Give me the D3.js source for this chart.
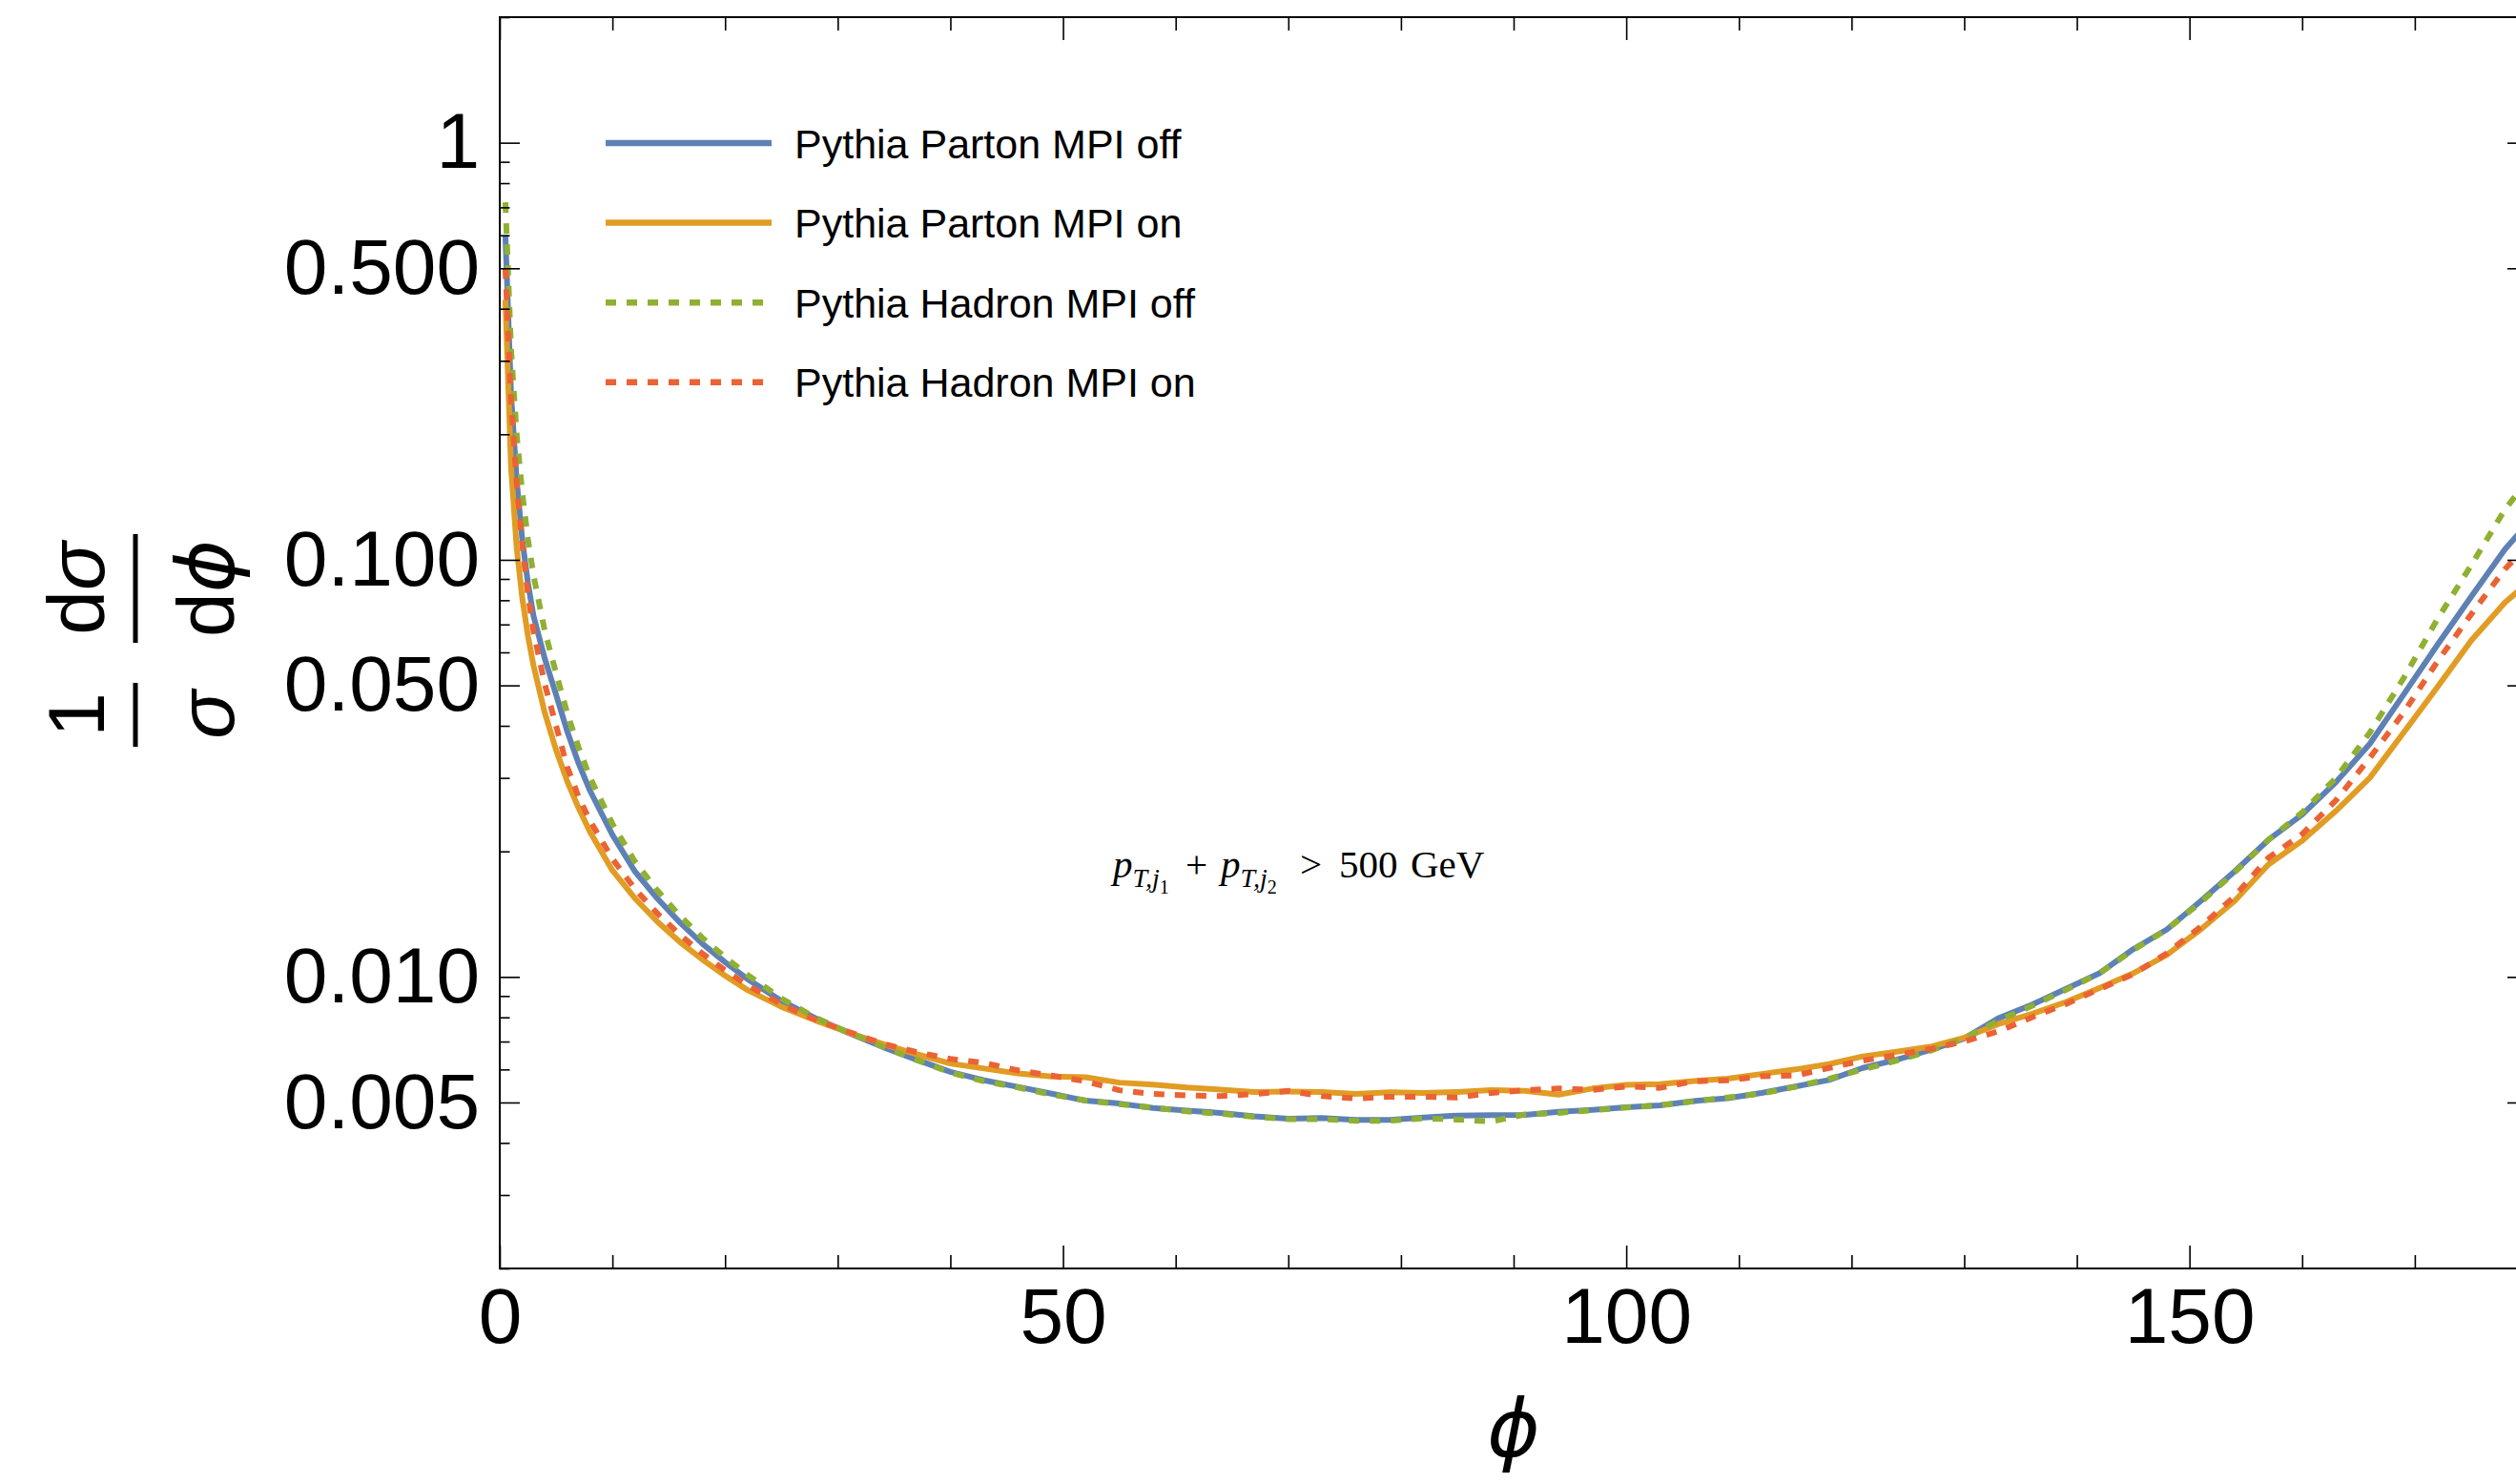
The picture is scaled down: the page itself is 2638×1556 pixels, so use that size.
<!DOCTYPE html>
<html>
<head>
<meta charset="utf-8">
<script src="https://cdn.jsdelivr.net/npm/d3@7"></script>
<style>
  html, body { margin: 0; padding: 0; background: #fff; }
  svg { display: block; }
</style>
</head>
<body>
<svg id="chart" width="2638" height="1556"></svg>
<script>
// Azimuthal angle bins (degrees)
const phi = [0.5, 1, 1.5, 2, 2.5, 3, 4, 5, 6, 7, 8, 10, 12, 14, 16, 18, 20, 22,
  25, 28, 31, 34, 37, 40, 43, 46, 49, 52, 55, 58, 61, 64, 67, 70, 73, 76, 79, 82,
  85, 88, 91, 94, 97, 100, 103, 106, 109, 112, 115, 118, 121, 124, 127, 130, 133,
  136, 139, 142, 145, 148, 151, 154, 157, 160, 163, 166, 169, 172, 175, 178, 180];

// Normalised distributions 1/sigma dsigma/dphi
const partonMpiOff = [0.60, 0.25, 0.155, 0.1115, 0.088, 0.0733, 0.0579, 0.0475, 0.0387, 0.0325, 0.0280,
  0.0219, 0.0179, 0.0154, 0.0135, 0.0120, 0.01085, 0.00988,
  0.00876, 0.00797, 0.00733, 0.00679, 0.00633, 0.00592, 0.00565, 0.00545, 0.00525, 0.00505, 0.00497,
  0.00485, 0.00478, 0.00472, 0.00463, 0.00457, 0.00459, 0.00454, 0.00454, 0.00460, 0.00465, 0.00466,
  0.00467, 0.00475, 0.00480, 0.00487, 0.00492, 0.00504, 0.00512, 0.00527, 0.00546, 0.00566, 0.00605,
  0.00633, 0.00668, 0.00712, 0.00795, 0.00858, 0.00935, 0.01020, 0.01165, 0.01300, 0.01520, 0.01790,
  0.02130, 0.02450, 0.02930, 0.03620, 0.04750, 0.06250, 0.08150, 0.10600, 0.12200];

const partonMpiOn = [0.42, 0.167, 0.107, 0.0809, 0.0657, 0.0557, 0.0429, 0.0350, 0.0294, 0.0254, 0.0223,
  0.0180, 0.01543, 0.01356, 0.01212, 0.01100, 0.01007, 0.00930,
  0.00848, 0.00787, 0.00735, 0.00691, 0.00653, 0.00620, 0.00603, 0.00587, 0.00577, 0.00575, 0.00558,
  0.00552, 0.00543, 0.00537, 0.00530, 0.00531, 0.00530, 0.00524, 0.00529, 0.00527, 0.00530, 0.00535,
  0.00533, 0.00522, 0.00540, 0.00551, 0.00553, 0.00563, 0.00570, 0.00585, 0.00600, 0.00618, 0.00645,
  0.00662, 0.00680, 0.00715, 0.00770, 0.00815, 0.00870, 0.00940, 0.01020, 0.01130, 0.01300, 0.01520,
  0.01860, 0.02120, 0.02500, 0.03000, 0.03850, 0.04950, 0.06400, 0.07900, 0.08800];

const hadronMpiOff = [0.72, 0.321, 0.200, 0.1445, 0.112, 0.0917, 0.0674, 0.0535, 0.0428, 0.0355, 0.0301,
  0.0233, 0.0189, 0.0161, 0.0140, 0.0124, 0.01115, 0.01011,
  0.00888, 0.00800, 0.00735, 0.00680, 0.00632, 0.00590, 0.00562, 0.00543, 0.00522, 0.00506, 0.00495,
  0.00486, 0.00476, 0.00470, 0.00462, 0.00456, 0.00456, 0.00452, 0.00452, 0.00458, 0.00455, 0.00450,
  0.00468, 0.00472, 0.00479, 0.00486, 0.00493, 0.00503, 0.00514, 0.00525, 0.00545, 0.00570, 0.00600,
  0.00630, 0.00665, 0.00712, 0.00785, 0.00852, 0.00930, 0.01020, 0.01160, 0.01300, 0.01510, 0.01780,
  0.02130, 0.02480, 0.03000, 0.03850, 0.05200, 0.07200, 0.09700, 0.13200, 0.15500];

const hadronMpiOn = [0.50, 0.242, 0.153, 0.1085, 0.0827, 0.0672, 0.0503, 0.0400, 0.0318, 0.0270, 0.0237,
  0.0192, 0.01625, 0.01419, 0.01262, 0.01137, 0.01037, 0.00955,
  0.00860, 0.00790, 0.00738, 0.00692, 0.00660, 0.00636, 0.00622, 0.00597, 0.00580, 0.00562, 0.00535,
  0.00524, 0.00520, 0.00518, 0.00524, 0.00533, 0.00518, 0.00511, 0.00516, 0.00516, 0.00514, 0.00527,
  0.00535, 0.00540, 0.00536, 0.00546, 0.00542, 0.00562, 0.00565, 0.00578, 0.00580, 0.00605, 0.00630,
  0.00650, 0.00672, 0.00700, 0.00740, 0.00800, 0.00860, 0.00935, 0.01015, 0.01140, 0.01320, 0.01560,
  0.01930, 0.02200, 0.02650, 0.03350, 0.04300, 0.05700, 0.07400, 0.09500, 0.10800];

const seriesNames = ["Pythia Parton MPI off", "Pythia Parton MPI on",
                     "Pythia Hadron MPI off", "Pythia Hadron MPI on"];

// Axis ticks
const xMajorTicks = [0, 50, 100, 150];
const xMinorTicks = [10, 20, 30, 40, 60, 70, 80, 90, 110, 120, 130, 140, 160, 170];
const yMajorTicks = [0.005, 0.01, 0.05, 0.1, 0.5, 1];
const yMajorLabels = ["0.005", "0.010", "0.050", "0.100", "0.500", "1"];
const yMinorTicks = [0.002, 0.003, 0.004, 0.006, 0.007, 0.008, 0.009,
                     0.02, 0.03, 0.04, 0.06, 0.07, 0.08, 0.09,
                     0.2, 0.3, 0.4, 0.6, 0.7, 0.8, 0.9, 2];

const series = [
  { name: seriesNames[0], values: partonMpiOff, color: "#5E81B5", dash: null },
  { name: seriesNames[1], values: partonMpiOn,  color: "#E19C24", dash: null },
  { name: seriesNames[2], values: hadronMpiOff, color: "#8FB032", dash: "11,11" },
  { name: seriesNames[3], values: hadronMpiOn,  color: "#EB6235", dash: "11,11" }
];

const plot = { left: 524, right: 2650, top: 18, bottom: 1330 };
const sans = "'Liberation Sans', Arial, Helvetica, sans-serif";
const serif = "'Liberation Serif', 'Times New Roman', serif";
const PHI = "\u03D5";   // straight-stroke phi

const svg = d3.select("#chart");

const x = d3.scaleLinear().domain([0, 180]).range([plot.left, plot.right]);
const y = d3.scaleLog().domain([0.002, 2]).range([plot.bottom, plot.top]);

// Curves, clipped to the frame
svg.append("clipPath").attr("id", "plot-clip")
  .append("rect")
  .attr("x", plot.left).attr("y", plot.top)
  .attr("width", plot.right - plot.left).attr("height", plot.bottom - plot.top);

const line = d3.line()
  .x((d, i) => x(phi[i]))
  .y(d => y(d));

const curves = svg.append("g").attr("clip-path", "url(#plot-clip)");
series.forEach(s => {
  curves.append("path")
    .datum(s.values)
    .attr("d", line)
    .attr("fill", "none")
    .attr("stroke", s.color)
    .attr("stroke-width", 6)
    .attr("stroke-linejoin", "round")
    .attr("stroke-dasharray", s.dash);
});

// Frame
svg.append("rect")
  .attr("x", plot.left).attr("y", plot.top)
  .attr("width", plot.right - plot.left).attr("height", plot.bottom - plot.top)
  .attr("fill", "none").attr("stroke", "#000").attr("stroke-width", 2);

function styleAxis(g) {
  g.attr("font-family", sans).attr("font-size", 82);
  g.select(".domain").remove();
  g.selectAll(".tick line").attr("stroke", "#000").attr("stroke-width", 1.6);
  g.selectAll("text").attr("fill", "#000");
}

// Bottom ticks with labels
svg.append("g")
  .attr("transform", `translate(0,${plot.bottom})`)
  .call(d3.axisBottom(x).tickValues(xMajorTicks).tickSize(-24).tickPadding(20).tickFormat(d3.format("d")))
  .call(styleAxis);
svg.append("g")
  .attr("transform", `translate(0,${plot.bottom})`)
  .call(d3.axisBottom(x).tickValues(xMinorTicks).tickSize(-14).tickFormat(""))
  .call(styleAxis);
// Top ticks
svg.append("g")
  .attr("transform", `translate(0,${plot.top})`)
  .call(d3.axisTop(x).tickValues(xMajorTicks).tickSize(-24).tickFormat(""))
  .call(styleAxis);
svg.append("g")
  .attr("transform", `translate(0,${plot.top})`)
  .call(d3.axisTop(x).tickValues(xMinorTicks).tickSize(-14).tickFormat(""))
  .call(styleAxis);

// Left ticks with labels
svg.append("g")
  .attr("transform", `translate(${plot.left},0)`)
  .call(d3.axisLeft(y).tickValues(yMajorTicks).tickSize(-21).tickPadding(21)
        .tickFormat((d, i) => yMajorLabels[i]))
  .call(styleAxis);
svg.append("g")
  .attr("transform", `translate(${plot.left},0)`)
  .call(d3.axisLeft(y).tickValues(yMinorTicks).tickSize(-10.5).tickFormat(""))
  .call(styleAxis);
// Right ticks
svg.append("g")
  .attr("transform", `translate(${plot.right},0)`)
  .call(d3.axisRight(y).tickValues(yMajorTicks).tickSize(-21).tickFormat(""))
  .call(styleAxis);
svg.append("g")
  .attr("transform", `translate(${plot.right},0)`)
  .call(d3.axisRight(y).tickValues(yMinorTicks).tickSize(-10.5).tickFormat(""))
  .call(styleAxis);

// X axis title
svg.append("text")
  .attr("x", (plot.left + plot.right) / 2).attr("y", 1527)
  .attr("text-anchor", "middle")
  .attr("font-family", "'DejaVu Sans', sans-serif").attr("font-size", 84).attr("font-style", "italic")
  .text(PHI);

// Y axis title: 1/σ dσ/dϕ, written as two stacked fractions
const yTitle = svg.append("g")
  .attr("transform", "translate(142,671.5) rotate(-90)")
  .attr("font-family", sans).attr("font-size", 84);

function fraction(cx, halfWidth, numParts, denParts) {
  yTitle.append("rect")
    .attr("x", cx - halfWidth).attr("y", -2.5)
    .attr("width", 2 * halfWidth).attr("height", 5)
    .attr("fill", "#000");
  const num = yTitle.append("text").attr("x", cx).attr("y", -33).attr("text-anchor", "middle");
  numParts.forEach(p => num.append("tspan")
    .attr("font-style", p.italic ? "italic" : null)
    .attr("font-family", p.family || null).text(p.t));
  const den = yTitle.append("text").attr("x", cx).attr("y", 103).attr("text-anchor", "middle");
  denParts.forEach(p => den.append("tspan")
    .attr("font-style", p.italic ? "italic" : null)
    .attr("font-family", p.family || null).text(p.t));
}
fraction(-78, 33.5, [{ t: "1" }], [{ t: "\u03C3", italic: true }]);
fraction(54.5, 57, [{ t: "d" }, { t: "\u03C3", italic: true }],
         [{ t: "d" }, { t: PHI, italic: true, family: "'DejaVu Sans', sans-serif" }]);

// Legend
const legend = svg.append("g");
series.forEach((s, i) => {
  const ly = 150 + i * 83.6;
  legend.append("line")
    .attr("x1", 635).attr("x2", 809).attr("y1", ly).attr("y2", ly)
    .attr("stroke", s.color).attr("stroke-width", 6.5)
    .attr("stroke-dasharray", s.dash);
  legend.append("text")
    .attr("x", 833).attr("y", ly + 15.5)
    .attr("font-family", sans).attr("font-size", 43)
    .attr("fill", "#000")
    .text(s.name);
});

// Cut annotation: pT,j1 + pT,j2 > 500 GeV
const note = svg.append("text")
  .attr("x", 1167).attr("y", 919.5)
  .attr("font-family", serif).attr("font-size", 41).attr("fill", "#000");
note.append("tspan").attr("font-style", "italic").text("p");
note.append("tspan").attr("font-style", "italic").attr("font-size", 28).attr("dy", 10).text("T,j");
note.append("tspan").attr("font-size", 20).attr("dy", 7).text("1");
note.append("tspan").attr("x", 1243).attr("dy", -17).text("+");
note.append("tspan").attr("x", 1280).attr("font-style", "italic").text("p");
note.append("tspan").attr("font-style", "italic").attr("font-size", 28).attr("dy", 10).text("T,j");
note.append("tspan").attr("font-size", 20).attr("dy", 7).text("2");
note.append("tspan").attr("x", 1363).attr("dy", -17).text(">");
note.append("tspan").attr("x", 1404).text("500");
note.append("tspan").attr("x", 1479).text("GeV");
</script>
</body>
</html>
